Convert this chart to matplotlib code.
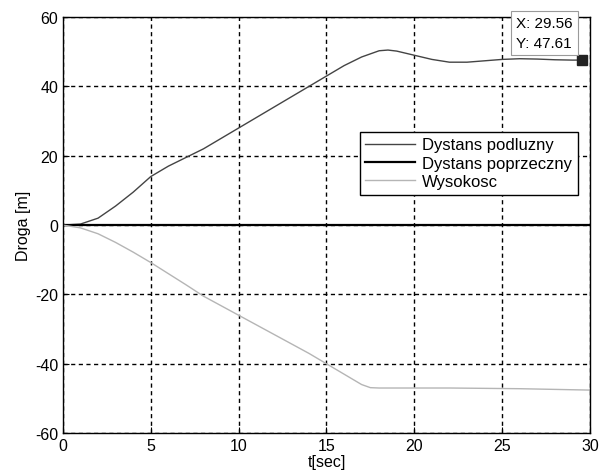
import numpy as np
import matplotlib.pyplot as plt

plt.rcParams['font.family'] = ['Liberation Sans', 'DejaVu Sans']
plt.rcParams['axes.unicode_minus'] = False

# czas [s] i przebiegi drogi [m]
t_podl = [0, 1, 2, 3, 4, 5, 6, 7, 8, 10, 12, 14, 15, 16, 17, 18, 18.5, 19, 20, 21, 22, 23, 24, 25, 26, 27, 28, 29, 29.56]
dyst_podl = [0, 0.3, 2, 5.5, 9.5, 14, 17, 19.5, 22, 28, 34, 40, 43, 46, 48.5, 50.3, 50.5, 50.2, 49, 47.8, 47, 47, 47.4, 47.8, 48, 47.9, 47.7, 47.6, 47.61]

t_pop = [0, 30]
dyst_pop = [0, 0]

t_wys = [0, 1, 2, 3, 4, 5, 6, 7, 8, 10, 12, 14, 15, 16, 17, 17.5, 18, 20, 22, 24, 26, 28, 30]
wysokosc = [0, -0.8, -2.5, -5, -7.8, -10.8, -14, -17.2, -20.5, -26, -31.5, -37, -40, -43, -46, -46.9, -47, -47, -47, -47.1, -47.2, -47.4, -47.6]

tip_x, tip_y = 29.56, 47.61

fig = plt.figure(figsize=(5.99, 4.77), dpi=100)
ax = fig.add_axes([0.105, 0.090, 0.880, 0.872])

ax.plot(t_podl, dyst_podl, color='#444444', lw=1.0, label='Dystans podluzny')
ax.plot(t_pop, dyst_pop, color='black', lw=1.6, label='Dystans poprzeczny')
ax.plot(t_wys, wysokosc, color='#b5b5b5', lw=1.0, label='Wysokosc')

# znacznik punktu danych
ax.plot([tip_x], [tip_y], 's', color='#222222', ms=7, clip_on=False)
ax.annotate(f'X: {tip_x:.2f}\nY: {tip_y:.2f}', xy=(tip_x, tip_y), xytext=(25.8, 50.6),
            fontsize=11, va='bottom', ha='left', linespacing=1.5, annotation_clip=False,
            bbox=dict(boxstyle='square,pad=0.35', fc='white', ec='#9a9a9a', lw=0.8))

ax.set_xlim(0, 30)
ax.set_ylim(-60, 60)
ax.set_xticks(np.arange(0, 31, 5))
ax.set_yticks(np.arange(-60, 61, 20))
ax.grid(True, color='black', linestyle=(0, (3, 2.5)), lw=1.0)
ax.tick_params(direction='in', labelsize=11.5, length=4)
for s in ax.spines.values():
    s.set_linewidth(1.0)
ax.set_xlabel('t[sec]', fontsize=11.5, labelpad=1)
ax.set_ylabel('Droga [m]', fontsize=11.5, labelpad=3)

leg = ax.legend(loc='upper right', bbox_to_anchor=(0.993, 0.745), fontsize=12,
                handlelength=3.0, handletextpad=0.4, borderpad=0.35, labelspacing=0.2,
                fancybox=False, framealpha=1, edgecolor='black')
leg.get_frame().set_linewidth(1.0)

fig.savefig('out.png', dpi=100)
